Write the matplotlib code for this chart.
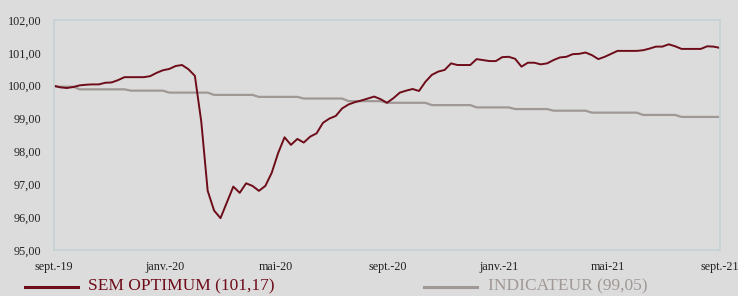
import matplotlib
matplotlib.use("Agg")
import matplotlib.pyplot as plt
import matplotlib.dates as mdates
from matplotlib.lines import Line2D
from matplotlib.ticker import FuncFormatter
import pandas as pd

# weekly values, sept. 2019 -> sept. 2021
sem_optimum = [
    100.00, 99.95, 99.93, 99.96, 100.01, 100.03, 100.04, 100.04, 100.09, 100.10,
    100.17, 100.26, 100.26, 100.26, 100.26, 100.29, 100.39, 100.47, 100.51, 100.60,
    100.63, 100.50, 100.30, 98.90, 96.80, 96.20, 95.97, 96.45, 96.93, 96.74,
    97.03, 96.95, 96.80, 96.95, 97.35, 97.95, 98.43, 98.20, 98.38, 98.27,
    98.45, 98.55, 98.87, 99.00, 99.08, 99.31, 99.43, 99.50, 99.55, 99.61,
    99.67, 99.59, 99.48, 99.62, 99.79, 99.85, 99.90, 99.84, 100.12, 100.33,
    100.43, 100.48, 100.68, 100.63, 100.63, 100.63, 100.81, 100.78, 100.75, 100.75,
    100.87, 100.88, 100.82, 100.58, 100.70, 100.70, 100.65, 100.68, 100.78, 100.86,
    100.88, 100.96, 100.97, 101.01, 100.93, 100.81, 100.88, 100.97, 101.06, 101.06,
    101.06, 101.06, 101.08, 101.13, 101.19, 101.19, 101.26, 101.20, 101.12, 101.12,
    101.12, 101.12, 101.20, 101.19, 101.15,
]
indicateur = [
    99.97, 99.97, 99.97, 99.97, 99.89, 99.89, 99.89, 99.89, 99.89, 99.89,
    99.89, 99.89, 99.85, 99.85, 99.85, 99.85, 99.85, 99.85, 99.79, 99.79,
    99.79, 99.79, 99.79, 99.79, 99.79, 99.72, 99.72, 99.72, 99.72, 99.72,
    99.72, 99.72, 99.66, 99.66, 99.66, 99.66, 99.66, 99.66, 99.66, 99.61,
    99.61, 99.61, 99.61, 99.61, 99.61, 99.61, 99.53, 99.53, 99.53, 99.53,
    99.53, 99.53, 99.48, 99.48, 99.48, 99.48, 99.48, 99.48, 99.48, 99.41,
    99.41, 99.41, 99.41, 99.41, 99.41, 99.41, 99.34, 99.34, 99.34, 99.34,
    99.34, 99.34, 99.29, 99.29, 99.29, 99.29, 99.29, 99.29, 99.24, 99.24,
    99.24, 99.24, 99.24, 99.24, 99.18, 99.18, 99.18, 99.18, 99.18, 99.18,
    99.18, 99.18, 99.11, 99.11, 99.11, 99.11, 99.11, 99.11, 99.05, 99.05,
    99.05, 99.05, 99.05, 99.05, 99.05,
]
dates = pd.date_range("2019-09-01", "2021-09-01", periods=len(sem_optimum))

tick_dates = pd.to_datetime(["2019-09-01", "2020-01-01", "2020-05-01", "2020-09-01",
                             "2021-01-01", "2021-05-01", "2021-09-01"])
tick_labels = ["sept.-19", "janv.-20", "mai-20", "sept.-20", "janv.-21", "mai-21", "sept.-21"]
labels = ["SEM OPTIMUM (101,17)", "INDICATEUR (99,05)"]

bg = "#dcdcdc"
red = "#6e0c19"
grey = "#a09895"

plt.rcParams["font.family"] = ["Liberation Serif", "DejaVu Serif"]

fig = plt.figure(figsize=(7.38, 2.96), dpi=100, facecolor=bg)
ax = fig.add_axes([54 / 738, 1 - 250 / 296, 666 / 738, 230 / 296], facecolor=bg)

ax.plot(dates, indicateur, color=grey, lw=1.6, solid_joinstyle="round")
ax.plot(dates, sem_optimum, color=red, lw=1.4, solid_joinstyle="round")

ax.set_xlim(dates[0], dates[-1])
ax.set_ylim(95, 102)
ax.set_yticks(range(95, 103))
ax.yaxis.set_major_formatter(FuncFormatter(lambda v, p: f"{v:.2f}".replace(".", ",")))
ax.set_xticks(tick_dates)
ax.set_xticklabels(tick_labels)
ax.tick_params(length=0, labelsize=8.7, colors="#222222")
ax.tick_params(axis="y", pad=9)
ax.tick_params(axis="x", pad=8)

for s in ax.spines.values():
    s.set_color("#c6d3d6")
    s.set_linewidth(1.3)

# legend below the chart
y_leg = 1 - 287 / 296
fig.add_artist(Line2D([25 / 738, 78 / 738], [y_leg, y_leg], color=red, lw=2.2))
fig.text(88 / 738, 0.018, labels[0], color=red, fontsize=12.5, va="baseline")
fig.add_artist(Line2D([424 / 738, 477 / 738], [y_leg, y_leg], color=grey, lw=2.2))
fig.text(488 / 738, 0.018, labels[1], color=grey, fontsize=12.5, va="baseline")

fig.savefig("out.png", dpi=100, facecolor=bg)
